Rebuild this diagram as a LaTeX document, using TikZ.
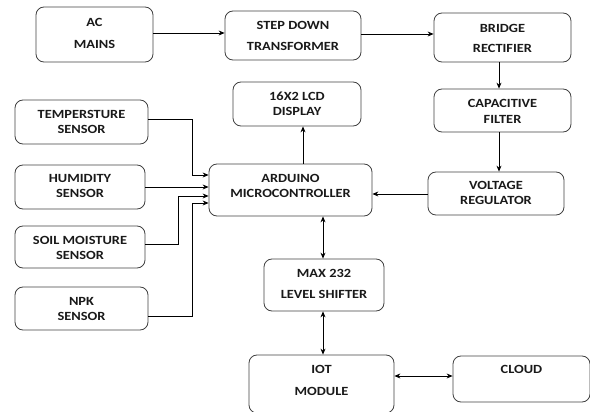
\documentclass[tikz,border=0pt]{standalone}
\usepackage{fontspec}
\setmainfont[FakeStretch=1.15]{Carlito}
\usetikzlibrary{arrows.meta}
\begin{document}
\begin{tikzpicture}[x=1pt,y=-1pt,
  box/.style={draw=black!75,line width=0.8pt,rounded corners=8pt,inner sep=0pt},
  txt/.style={font=\fontsize{12.5}{14}\selectfont\bfseries,inner sep=0pt,text=black!90},
  arr/.style={line width=0.8pt,-{Stealth[length=6pt,width=5pt]}},
  darr/.style={line width=0.8pt,{Stealth[length=6pt,width=5pt]}-{Stealth[length=6pt,width=5pt]}}]
\useasboundingbox (0,0) rectangle (590,412);
% boxes
\node[box,minimum width=117pt,minimum height=55pt] (ac) at (94.5,34.5) {};
\node[box,minimum width=136pt,minimum height=49pt] (step) at (293,35.5) {};
\node[box,minimum width=137pt,minimum height=49pt] (bridge) at (502.5,37.5) {};
\node[box,minimum width=128pt,minimum height=44pt] (lcd) at (297,104) {};
\node[box,minimum width=137pt,minimum height=43pt] (cap) at (502.5,110.5) {};
\node[box,minimum width=133pt,minimum height=44pt] (temp) at (81.5,122) {};
\node[box,minimum width=130pt,minimum height=44pt] (hum) at (80,187) {};
\node[box,minimum width=163pt,minimum height=52pt] (ard) at (290.5,190) {};
\node[box,minimum width=136pt,minimum height=43pt] (volt) at (496,193.5) {};
\node[box,minimum width=130pt,minimum height=42pt] (soil) at (80,247) {};
\node[box,minimum width=133pt,minimum height=43pt] (npk) at (81.5,308.5) {};
\node[box,minimum width=120pt,minimum height=52pt] (max) at (324,285) {};
\node[box,minimum width=145pt,minimum height=58pt] (iot) at (321.5,384) {};
\node[box,minimum width=137pt,minimum height=46pt] (cloud) at (521.5,379) {};
% texts
\node[txt] (t1) at (94.5,22) {AC};
\node[txt] (t2) at (94.5,44) {MAINS};
\node[txt] (t3) at (293,25) {STEP DOWN};
\node[txt] (t4) at (293,46.5) {TRANSFORMER};
\node[txt] (t5) at (502.5,28) {BRIDGE};
\node[txt] (t6) at (502.5,48.5) {RECTIFIER};
\node[txt] (t7) at (297,96) {16X2 LCD};
\node[txt] (t8) at (297,111) {DISPLAY};
\node[txt] (t9) at (502.5,103) {CAPACITIVE};
\node[txt] (t10) at (502.5,119) {FILTER};
\node[txt] (t11) at (81.5,114) {TEMPERSTURE};
\node[txt] (t12) at (81.5,129) {SENSOR};
\node[txt] (t13) at (80,178.5) {HUMIDITY};
\node[txt] (t14) at (80,193.5) {SENSOR};
\node[txt] (t15) at (290.5,178.5) {ARDUINO};
\node[txt] (t16) at (290.5,193.5) {MICROCONTROLLER};
\node[txt] (t17) at (496,185.5) {VOLTAGE};
\node[txt] (t18) at (496,200.5) {REGULATOR};
\node[txt] (t19) at (80,240) {SOIL MOISTURE};
\node[txt] (t20) at (80,255.5) {SENSOR};
\node[txt] (t21) at (81.5,301.5) {NPK};
\node[txt] (t22) at (81.5,316.5) {SENSOR};
\node[txt] (t23) at (324,273) {MAX 232};
\node[txt] (t24) at (324,294) {LEVEL SHIFTER};
\node[txt] (t25) at (321.5,369.5) {IOT};
\node[txt] (t26) at (321.5,391) {MODULE};
\node[txt] (t27) at (521.5,369.5) {CLOUD};
% connectors
\draw[arr] (ac.east |- 0,33) -- (step.west |- 0,33);
\draw[arr] (step.east |- 0,34) -- (bridge.west |- 0,34);
\draw[arr] (bridge.south -| 499,0) -- (cap.north -| 499,0);
\draw[arr] (cap.south -| 499,0) -- (volt.north -| 499,0);
\draw[arr] (volt.west |- 0,194) -- (ard.east |- 0,194);
\draw[arr] (ard.north -| 303,0) -- (lcd.south -| 303,0);
\draw[darr] (ard.south -| 323,0) -- (max.north -| 323,0);
\draw[darr] (max.south -| 323,0) -- (iot.north -| 323,0);
\draw[darr] (iot.east |- 0,376) -- (cloud.west |- 0,376);
\draw[arr] (temp.east |- 0,119) -| (192,175) -- (ard.west |- 0,175);
\draw[arr] (hum.east |- 0,187) -- (ard.west |- 0,187);
\draw[arr] (soil.east |- 0,244) -| (178,196) -- (ard.west |- 0,196);
\draw[arr] (npk.east |- 0,316) -| (192,203) -- (ard.west |- 0,203);
\end{tikzpicture}
\end{document}
